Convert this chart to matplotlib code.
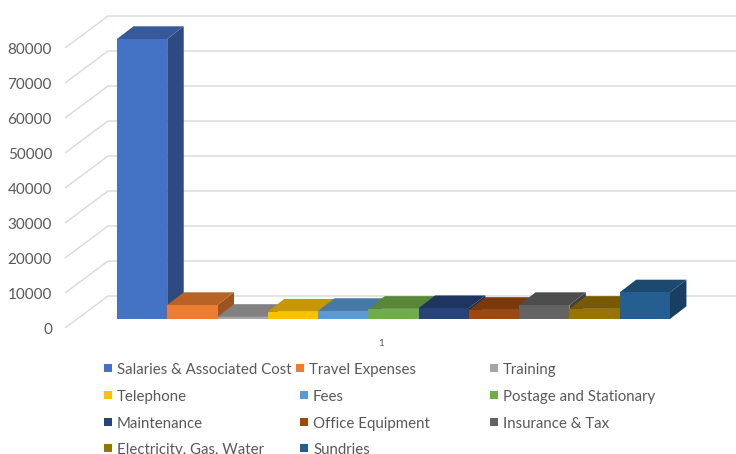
import matplotlib
matplotlib.use("Agg")
import matplotlib.pyplot as plt
from matplotlib.patches import Polygon, Rectangle
from matplotlib.colors import to_rgb
import numpy as np

# ---------------- data ----------------
categories = ["Salaries & Associated Cost", "Travel Expenses", "Training",
              "Telephone", "Fees", "Postage and Stationary",
              "Maintenance", "Office Equipment", "Insurance & Tax",
              "Electricity, Gas, Water", "Sundries"]
values = [80000, 4000, 600, 2100, 2300, 2900, 3100, 2600, 4000, 2900, 7600]
colors = ["#4472C4", "#ED7D31", "#A5A5A5", "#FFC000", "#5B9BD5", "#70AD47",
          "#264478", "#9E480E", "#636363", "#997300", "#255E91"]
y_ticks = [0, 10000, 20000, 30000, 40000, 50000, 60000, 70000, 80000]
x_label = "1"

plt.rcParams['font.family'] = ['Lato', 'DejaVu Sans']

# ---------------- layout ----------------
W, H = 736, 454
fig = plt.figure(figsize=(W / 100, H / 100), dpi=100)
ax = fig.add_axes([0, 0, 1, 1])
SLOT_PX = 50.27          # pixels per category slot
VAL_PX = 35 / 10000      # pixels per value unit
X0_PX = 142.1            # pixel x of first slot centre
Y0_PX = 319.0            # pixel y (from top) of value 0 on bar front plane
xmin, xmax = -X0_PX / SLOT_PX, (W - X0_PX) / SLOT_PX
ax.set_xlim(xmin, xmax)
ax.set_ylim(-(H - Y0_PX) / VAL_PX, Y0_PX / VAL_PX)
ax.axis('off')


def dxp(px):
    return px / SLOT_PX


def dyp(px):
    return px / VAL_PX


def shade(c, f):
    r, g, b = to_rgb(c)
    return (r * f, g * f, b * f)


text_col = "#595959"
grid_col = "#D9D9D9"

# walls / gridlines
wall_x = (77.1 - X0_PX) / SLOT_PX
for v in y_ticks:
    xf, yf = wall_x + dxp(-12.1), v - dyp(9)
    xb, yb = wall_x + dxp(30.9), v + dyp(23)
    ax.plot([xf, xb, xmax], [yf, yb, yb], color=grid_col, lw=1.0, zorder=1,
            solid_capstyle='butt', solid_joinstyle='miter')
    ax.text(xf - dxp(13), yf - dyp(6), f"{v}", ha='right', va='baseline',
            fontsize=11, color=text_col)

# bars (front faces) + 3D top / side faces
n = len(values)
bars = ax.bar(np.arange(n), values, width=1.0, color=colors, linewidth=0)
ddx, ddy = dxp(16.5), dyp(12.7)
for i, (b, c) in enumerate(zip(bars, colors)):
    x, w, h = b.get_x(), b.get_width(), b.get_height()
    z = 3 + 0.1 * i
    side = Polygon([(x + w, 0), (x + w + ddx, ddy), (x + w + ddx, h + ddy), (x + w, h)],
                   closed=True, facecolor=shade(c, 0.66), edgecolor='none', zorder=z)
    top = Polygon([(x, h), (x + w, h), (x + w + ddx, h + ddy), (x + ddx, h + ddy)],
                  closed=True, facecolor=shade(c, 0.78), edgecolor='none', zorder=z + 0.01)
    ax.add_patch(side)
    ax.add_patch(top)
    b.set_zorder(z + 0.02)

# category label
ax.text((n - 1) / 2 + dxp(-12.1), -dyp(9) - dyp(17.5), x_label, ha='center',
        va='baseline', fontsize=7, color=text_col)

# legend (manual, Excel-like layout)
col_x = [104, 300, 490]
row_y = [368, 395, 422, 448]
for i, (lab, c) in enumerate(zip(categories, colors)):
    r, k = divmod(i, 3)
    mx = col_x[k]
    if r == 0 and k == 1:
        mx = 296
    my = row_y[r]
    ax.add_patch(Rectangle((mx / W, 1 - (my + 4) / H), 8 / W, 8 / H,
                           transform=ax.transAxes, facecolor=c, edgecolor='none',
                           clip_on=False))
    ax.text((mx + 13) / W, 1 - (my + 6) / H, lab, transform=ax.transAxes,
            ha='left', va='baseline', fontsize=10.8, color=text_col)

fig.savefig("out.png", dpi=100)
